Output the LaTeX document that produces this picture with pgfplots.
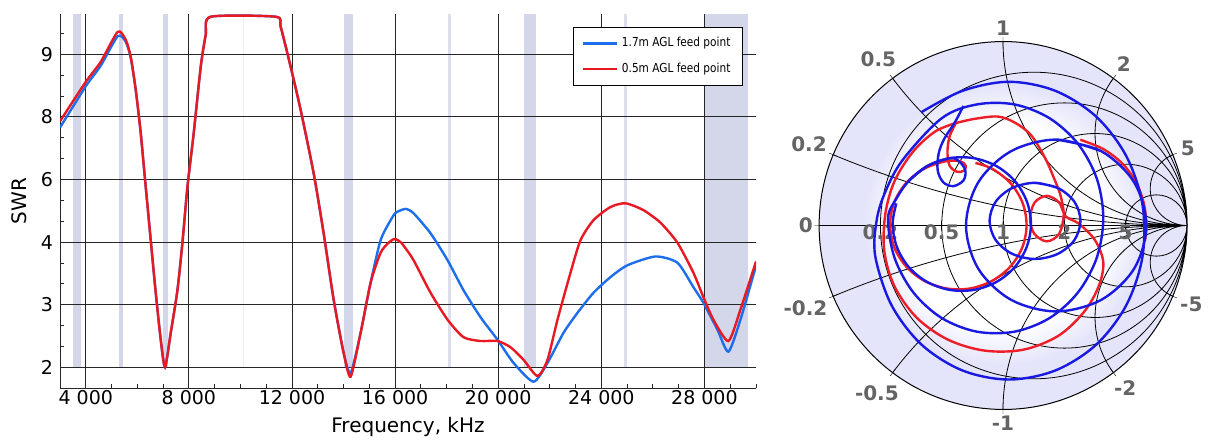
\documentclass[border=0pt]{standalone}
\usepackage{pgfplots}
\pgfplotsset{compat=1.18}
\usepgfplotslibrary{smithchart}
\usepackage{fontspec}
\setmainfont{DejaVu Sans}
\newfontfamily\legfont[FakeStretch=0.85]{DejaVu Sans}
\definecolor{bandc}{RGB}{212,214,234}
\definecolor{smithbg}{RGB}{228,229,250}
\definecolor{lblue}{RGB}{30,110,235}
\definecolor{lred}{RGB}{232,25,35}
\definecolor{sblue}{RGB}{25,25,225}
\definecolor{sred}{RGB}{238,30,40}
\definecolor{labgray}{RGB}{100,100,100}
\pgfdeclareradialshading{swrshade}{\pgfpoint{0bp}{0bp}}{color(0bp)=(white); color(14bp)=(white); color(19bp)=(smithbg); color(50bp)=(smithbg)}

\pgfplotstableread{
f u
3000 3.93
4000 4.56
4582 4.88
5241 5.36
5551 5.23
5745 4.96
5939 4.43
6132 3.74
6326 2.88
6520 2.03
6714 1.19
6908 0.44
7074 0.00
7296 0.55
7555 1.23
7749 1.99
7943 2.88
8187 3.74
8459 4.80
8652 5.31
8846 5.60
11366 5.60
11560 5.44
11948 4.80
12336 4.11
12840 3.10
13228 2.14
13616 1.08
14003 0.23
14274 -0.15
14662 0.55
15049 1.35
15437 1.83
15747 1.99
15980 2.05
16212 2.00
16406 1.90
16717 1.71
17376 1.19
18035 0.76
18655 0.48
19314 0.42
19973 0.42
20477 0.32
20981 0.12
21524 -0.14
21912 0.12
22299 0.76
22803 1.51
23191 2.03
23695 2.35
24354 2.56
24936 2.62
25634 2.51
26293 2.31
26952 1.99
27572 1.51
27960 1.12
28348 0.76
28930 0.42
29395 0.92
30000 1.69
}\redswr

\pgfplotstableread{
f u
3000 3.83
4000 4.49
4582 4.82
5241 5.29
5551 5.20
5745 4.94
5939 4.43
6132 3.74
6326 2.88
6520 2.03
6714 1.19
6908 0.44
7074 0.00
7296 0.55
7555 1.23
7749 1.99
7943 2.88
8187 3.74
8459 4.80
8652 5.31
8846 5.60
11366 5.60
11560 5.44
11948 4.80
12336 4.11
12840 3.10
13228 2.14
13616 1.08
14003 0.23
14274 -0.09
14662 0.55
15049 1.35
15437 2.03
15825 2.35
16030 2.47
16406 2.53
16717 2.46
17376 2.14
18035 1.71
18655 1.23
19314 0.80
19973 0.44
20594 0.07
21369 -0.23
21912 0.07
22532 0.55
23075 0.87
23695 1.19
24354 1.44
25013 1.63
26099 1.77
26952 1.67
27572 1.28
27960 1.03
28503 0.60
28930 0.25
29395 0.76
30000 1.62
}\blueswr

\begin{document}
\begin{tikzpicture}
\begin{axis}[
  at={(30pt,25.5pt)}, anchor=south west, scale only axis,
  width=348pt, height=187pt,
  set layers,
  xmin=3000, xmax=30000, ymin=-0.331, ymax=5.644,
  axis x line*=bottom, axis y line*=left,
  axis line style={black!85, line width=0.5pt},
  scaled x ticks=false,
  xtick={4000,8000,12000,16000,20000,24000,28000},
  xticklabels={4 000,8 000,12 000,16 000,20 000,24 000,28 000},
  minor xtick={3000,5000,6000,7000,9000,10000,11000,13000,14000,15000,17000,18000,19000,21000,22000,23000,25000,26000,27000,29000,30000},
  ytick={0,1,2,3,4,5}, yticklabels={2,3,4,6,8,9},
  minor ytick={0.333,0.667,1.333,1.667,2.333,2.667,3.333,3.667,4.333,4.667,5.333},
  tick align=inside, major tick length=0pt, minor tick length=2pt,
  minor tick style={black!85, line width=0.4pt},
  grid=major, major grid style={black!85, line width=0.5pt},
  ticklabel style={font=\fontsize{9.5}{11}\selectfont},
  xticklabel style={yshift=2.5pt},
  xlabel={Frequency, kHz}, ylabel={SWR},
  xlabel style={at={(axis description cs:0.5,-0.119)}, anchor=base},
  label style={font=\fontsize{10}{12}\selectfont},
  legend style={at={(0.981,0.965)}, anchor=north east, font=\legfont\fontsize{6.2}{7.5}\selectfont,
    draw=black, line width=0.4pt, inner xsep=4pt, inner ysep=3pt, row sep=2.5pt},
  legend cell align=left,
]
\begin{pgfonlayer}{axis background}
\addplot[fill=bandc, draw=none, forget plot, ybar interval] coordinates {(3500,5.644) (3800,5.644)};
\addplot[fill=bandc, draw=none, forget plot, ybar interval] coordinates {(5300,5.644) (5450,5.644)};
\addplot[fill=bandc, draw=none, forget plot, ybar interval] coordinates {(7000,5.644) (7200,5.644)};
\addplot[fill=bandc!45, draw=none, forget plot, ybar interval] coordinates {(10100,5.644) (10150,5.644)};
\addplot[fill=bandc, draw=none, forget plot, ybar interval] coordinates {(14000,5.644) (14350,5.644)};
\addplot[fill=bandc!80, draw=none, forget plot, ybar interval] coordinates {(18068,5.644) (18168,5.644)};
\addplot[fill=bandc, draw=none, forget plot, ybar interval] coordinates {(21000,5.644) (21450,5.644)};
\addplot[fill=bandc!80, draw=none, forget plot, ybar interval] coordinates {(24890,5.644) (24990,5.644)};
\addplot[fill=bandc, draw=none, forget plot, ybar interval] coordinates {(28000,5.644) (29700,5.644)};
\end{pgfonlayer}
\addplot[lblue, line width=1.2pt, smooth, tension=0.4] table[x=f, y=u] {\blueswr};
\addlegendentry{1.7m AGL feed point}
\addplot[lred, line width=1.2pt, smooth, tension=0.4] table[x=f, y=u] {\redswr};
\addlegendentry{0.5m AGL feed point}
\end{axis}

\begin{smithchart}[
  at={(501.5pt,106.75pt)}, anchor=center, scale only axis, width=184pt,
  xtick={0.2,0.5,1,2,5}, ytick={-5,-2,-1,-0.5,-0.2,0,0.2,0.5,1,2,5},
  /pgf/number format/assume math mode=true,
  ticklabel style={font=\bfseries\fontsize{10}{12}\selectfont, text=labgray},
  yticklabel style={inner sep=0.8pt},
  xticklabel style={anchor=north, inner sep=1.5pt},
  axis background/.style={shade, shading=swrshade},
  grid style={black, line width=0.4pt},
  major grid style={black, line width=0.4pt},
  minor grid style={black, line width=0.4pt},
  axis line style={black, line width=0.5pt},
]
% red: arc beside loop C
\addplot[is smithchart cs, sred, line width=1.2pt, smooth, tension=0.55] coordinates {
(0.420,0.466) (0.542,0.417) (0.646,0.339) (0.722,0.237) (0.765,0.121) (0.779,0.0) (0.772,-0.081)};
% red: loop R1 with small loop G
\addplot[is smithchart cs, sred, line width=1.2pt, smooth, tension=0.55] coordinates {
(-0.256,0.557) (-0.152,0.580) (-0.027,0.592) (0.066,0.558) (0.154,0.489) (0.231,0.362) (0.280,0.250) (0.312,0.165) (0.330,0.060) (0.305,-0.045) (0.238,-0.086) (0.170,-0.045) (0.147,0.038) (0.172,0.125) (0.238,0.161) (0.305,0.125) (0.340,0.050) (0.412,0.010) (0.500,-0.080) (0.545,-0.200) (0.520,-0.330) (0.440,-0.470) (0.300,-0.600) (0.110,-0.675) (-0.100,-0.680) (-0.300,-0.620) (-0.470,-0.500) (-0.590,-0.330) (-0.645,-0.140) (-0.640,0.060) (-0.590,0.240) (-0.490,0.400) (-0.370,0.510) (-0.256,0.557)};
% red: hook and loop R2
\addplot[is smithchart cs, sred, line width=1.2pt, smooth, tension=0.55] coordinates {
(-0.256,0.557) (-0.290,0.485) (-0.302,0.400) (-0.290,0.325) (-0.250,0.292) (-0.212,0.298) (-0.203,0.325) (-0.230,0.348) (-0.308,0.350) (-0.429,0.308) (-0.527,0.230) (-0.592,0.124) (-0.614,0.004) (-0.592,-0.116) (-0.527,-0.222) (-0.429,-0.300) (-0.308,-0.342) (-0.178,-0.342) (-0.058,-0.300) (0.041,-0.222) (0.106,-0.116) (0.128,0.004) (0.106,0.124) (0.041,0.230) (-0.058,0.308) (-0.150,0.340)};
% blue: loops A, B, D
\addplot[is smithchart cs, sblue, line width=1.2pt, smooth, tension=0.55] coordinates {
(-0.445,0.615) (-0.220,0.732) (0.032,0.781) (0.284,0.732) (0.506,0.592) (0.670,0.377) (0.758,0.113) (0.758,-0.169) (0.670,-0.433) (0.506,-0.648) (0.284,-0.788) (0.032,-0.837) (-0.220,-0.788) (-0.442,-0.648) (-0.606,-0.433) (-0.694,-0.169) (-0.688,0.020) (-0.645,0.170) (-0.547,0.354) (-0.333,0.583) (-0.142,0.658) (0.062,0.658) (0.253,0.583) (0.408,0.443) (0.510,0.254) (0.545,0.040) (0.510,-0.174) (0.408,-0.363) (0.253,-0.503) (0.062,-0.577) (-0.142,-0.577) (-0.333,-0.503) (-0.488,-0.363) (-0.590,-0.174) (-0.625,0.040) (-0.577,0.150) (-0.512,0.242) (-0.412,0.323) (-0.289,0.366) (-0.159,0.366) (-0.036,0.323) (0.064,0.242) (0.129,0.132) (0.152,0.008) (0.129,-0.116) (0.064,-0.226) (-0.036,-0.307) (-0.159,-0.350) (-0.289,-0.350) (-0.412,-0.307) (-0.512,-0.226) (-0.577,-0.116) (-0.600,0.008) (-0.580,0.120)};
% blue: hook and small loop
\addplot[is smithchart cs, sblue, line width=1.2pt, smooth, tension=0.55] coordinates {
(-0.215,0.650) (-0.262,0.560) (-0.320,0.470) (-0.350,0.390) (-0.355,0.300) (-0.325,0.235) (-0.270,0.214) (-0.215,0.245) (-0.205,0.300) (-0.240,0.350) (-0.289,0.366) (-0.412,0.323) (-0.512,0.242)};
% blue: loop C
\addplot[is smithchart cs, sblue, line width=1.2pt, smooth, tension=0.55] coordinates {
(0.289,0.467) (0.534,0.404) (0.713,0.234) (0.779,0) (0.713,-0.234) (0.534,-0.404) (0.289,-0.467) (0.044,-0.404) (-0.135,-0.234) (-0.201,0) (-0.135,0.234) (0.044,0.404) (0.289,0.467) (0.534,0.404)};
% blue: loop E
\addplot[is smithchart cs, sblue, line width=1.2pt, smooth, tension=0.55] coordinates {
(0.174,0.232) (0.298,0.204) (0.388,0.129) (0.421,0.025) (0.388,-0.079) (0.298,-0.154) (0.174,-0.182) (0.050,-0.154) (-0.040,-0.079) (-0.073,0.025) (-0.040,0.129) (0.050,0.204) (0.174,0.232) (0.298,0.204)};
\end{smithchart}
\pgfresetboundingbox
\path[use as bounding box] (0,0) rectangle (604pt,219.5pt);
\end{tikzpicture}
\end{document}
